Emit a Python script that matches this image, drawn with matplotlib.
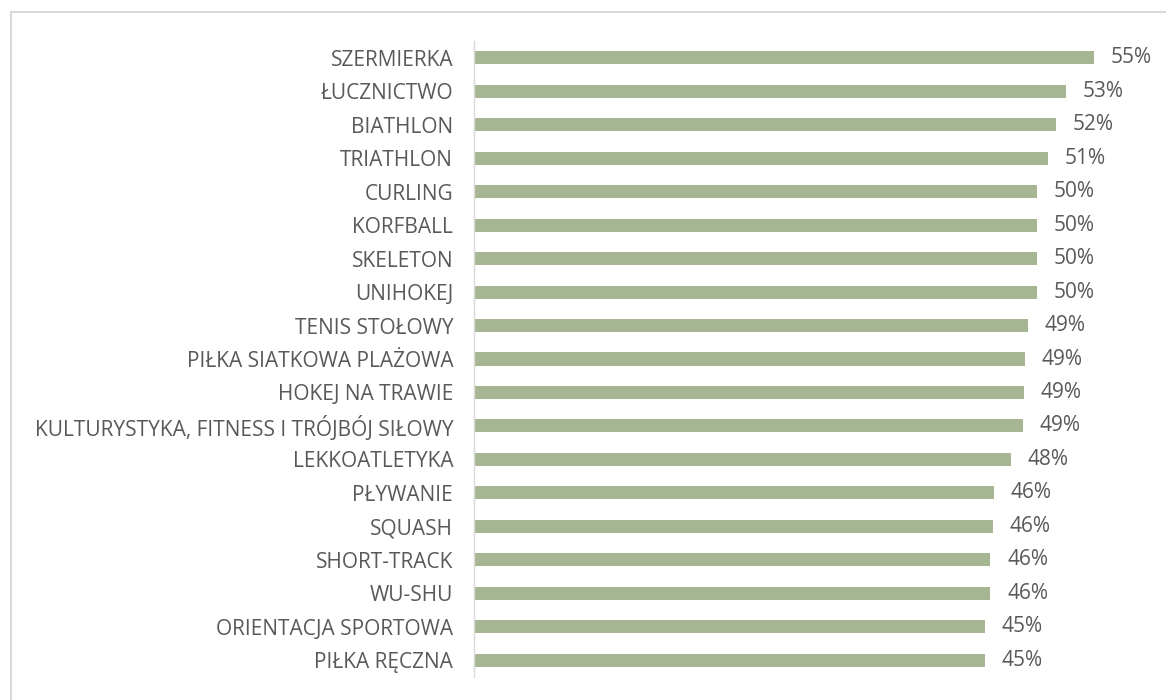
import matplotlib.pyplot as plt
from matplotlib.patches import Rectangle

# sports and their shares
sports = [
    "SZERMIERKA", "ŁUCZNICTWO", "BIATHLON", "TRIATHLON", "CURLING",
    "KORFBALL", "SKELETON", "UNIHOKEJ", "TENIS STOŁOWY",
    "PIŁKA SIATKOWA PLAŻOWA", "HOKEJ NA TRAWIE",
    "KULTURYSTYKA, FITNESS I TRÓJBÓJ SIŁOWY", "LEKKOATLETYKA",
    "PŁYWANIE", "SQUASH", "SHORT-TRACK", "WU-SHU",
    "ORIENTACJA SPORTOWA", "PIŁKA RĘCZNA",
]
shares = [
    55.1, 52.6, 51.7, 51.0, 50.0,
    50.0, 50.0, 50.0, 49.2,
    49.0, 48.9,
    48.8, 47.7,
    46.2, 46.1, 45.9, 45.9,
    45.4, 45.4,
]

bar_color = "#A6B592"
text_color = "#595959"
plt.rcParams["font.family"] = ["Open Sans", "DejaVu Sans"]

W, H = 1166, 700
fig = plt.figure(figsize=(W / 100, H / 100), dpi=100)

# light grey frame (only top and left edges fall inside the image)
fig.patches.append(Rectangle((11 / W, 0 - 0.1), 1.2, (H - 12) / H + 0.1,
                             transform=fig.transFigure, fill=False,
                             edgecolor="#D9D9D9", linewidth=1.5))

ax = fig.add_axes([474 / W, (H - 677) / H, 675 / W, 636 / H])
ypos = list(range(len(sports)))
ax.barh(ypos, shares, height=0.39, color=bar_color)
ax.set_ylim(len(sports) - 0.5, -0.5)
ax.set_xlim(0, 60)

ax.set_yticks(ypos)
ax.set_yticklabels(sports, fontsize=15, color=text_color)
ax.tick_params(axis="y", length=0, pad=15)
ax.set_xticks([])

for s in ["top", "right", "bottom"]:
    ax.spines[s].set_visible(False)
ax.spines["left"].set_color("#D9D9D9")
ax.spines["left"].set_linewidth(1.0)

for y, v in zip(ypos, shares):
    ax.annotate(f"{round(v):.0f}%", (v, y), xytext=(12, 0),
                textcoords="offset points", va="center", ha="left",
                fontsize=15, color=text_color)

fig.savefig("out.png", dpi=100, facecolor="white")
